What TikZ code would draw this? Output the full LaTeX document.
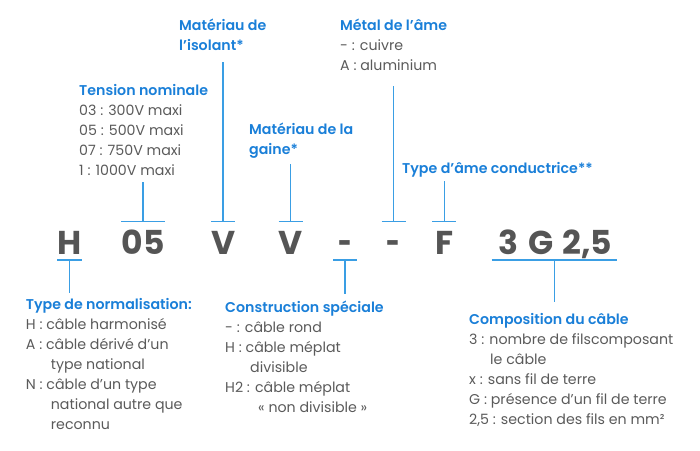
\documentclass[tikz,border=0pt]{standalone}
\usepackage{fontspec}
\setmainfont{Poppins}
\newfontfamily\headfont{Poppins}[UprightFont=*-SemiBold]
\definecolor{hblue}{HTML}{1A7FD8}
\definecolor{tgray}{HTML}{5A5A5A}
\definecolor{lblue}{HTML}{3A9EE4}
\definecolor{bgray}{HTML}{555555}
\tikzset{
  lbl/.style={anchor=base west, align=left, inner sep=0pt, text=tgray,
    font=\fontsize{14.2}{20}\selectfont},
  big/.style={anchor=base, inner sep=0pt, text=bgray,
    font=\fontsize{33}{33}\selectfont\bfseries},
  bar/.style={draw=lblue, line width=1.1pt},
}
\newcommand{\hd}[1]{{\headfont\color{hblue}#1}}
\newcommand{\thindash}{\scalebox{0.72}[1]{-}}
\begin{document}
\begin{tikzpicture}[x=1pt,y=-1pt]
\useasboundingbox (0,0) rectangle (700,450);
% big code letters
\node[big] (cH) at (69.3,254) {H};
\node[big] (c05) at (143.3,254) {05};
\node[big] (cV1) at (223.3,254) {V};
\node[big] (cV2) at (290.5,254) {V};
\node[big] (cD1) at (345,254) {\thindash};
\node[big] (cD2) at (393.5,254) {\thindash};
\node[big] (cF) at (444.3,254) {F};
\node[big] (cC) at (555,254) {3\hspace{10pt}G\hspace{9pt}2,5};
% labels (anchor is the baseline of the last line)
\node[lbl] (isol) at (179,50.5) {\hd{Matériau de}\\\hd{l’isolant*}};
\node[lbl] (tens) at (79,175.5) {\hd{Tension nominale}\\03 : 300V maxi\\05 : 500V maxi\\07 : 750V maxi\\1 : 1000V maxi};
\node[lbl] (gaine) at (249,154.5) {\hd{Matériau de la}\\\hd{gaine*}};
\node[lbl] (metal) at (340,70.5) {\hd{Métal de l’âme}\\- : cuivre\\A : aluminium};
\node[lbl] (tame) at (402,173.5) {\hd{Type d’âme conductrice**}};
\node[lbl] (norm) at (25.7,429) {\hd{Type de normalisation:}\\H : câble harmonisé\\A : câble dérivé d’un\\\hspace{25pt}type national\\N : câble d’un type\\\hspace{25pt}national autre que\\\hspace{25pt}reconnu};
\node[lbl] (cons) at (225,412.5) {\hd{Construction spéciale}\\- : câble rond\\H : câble méplat\\\hspace{25pt}divisible\\H2 : câble méplat\\\hspace{33pt}« non divisible »};
\node[lbl] (comp) at (469,424.5) {\hd{Composition du câble}\\3 : nombre de filscomposant\\\hspace{21pt}le câble\\x : sans fil de terre\\G : présence d’un fil de terre\\2,5 : section des fils en mm²};
% bars
\coordinate (b05) at (143,221.7);
\coordinate (bV1) at (223,221.7);
\coordinate (bV2) at (290.5,221.7);
\coordinate (bD2) at (393.5,221.7);
\coordinate (bF) at (444.3,221.7);
\coordinate (bH) at (69.3,260);
\coordinate (bD1) at (345,260);
\coordinate (bC) at (554.5,260);
\draw[bar] (121,221.7) -- (165,221.7);
\draw[bar] (211.3,221.7) -- (235.3,221.7);
\draw[bar] (278.5,221.7) -- (302.5,221.7);
\draw[bar] (381.5,221.7) -- (405.5,221.7);
\draw[bar] (432.3,221.7) -- (456.3,221.7);
\draw[bar] (57.3,260) -- (81.8,260);
\draw[bar] (333,260) -- (357,260);
\draw[bar] (491.7,260) -- (616.5,260);
% connectors
\coordinate (tTens) at (143,182);
\coordinate (tIsol) at (223,62);
\coordinate (tGaine) at (290.5,164);
\coordinate (tMetal) at (393.5,86);
\coordinate (tTame) at (444.3,181);
\coordinate (tNorm) at (69.3,293);
\coordinate (tCons) at (345,294);
\coordinate (tComp) at (554.5,301.7);
\draw[bar] (tTens) -- (b05);
\draw[bar] (tIsol) -- (bV1);
\draw[bar] (tGaine) -- (bV2);
\draw[bar] (tMetal) -- (bD2);
\draw[bar] (tTame) -- (bF);
\draw[bar] (bH) -- (tNorm);
\draw[bar] (bD1) -- (tCons);
\draw[bar] (bC) -- (tComp);
\end{tikzpicture}
\end{document}
